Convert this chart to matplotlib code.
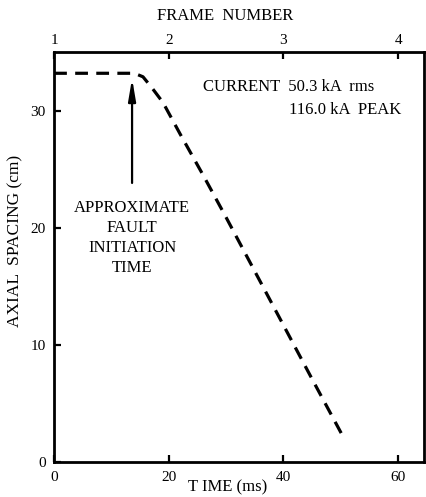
import numpy as np
import matplotlib
matplotlib.use("Agg")
import matplotlib.pyplot as plt

time_ms = [0.0, 5.0, 10.0, 14.0, 15.5, 17.0, 19.0, 22.0, 26.0, 30.0,
           35.0, 40.0, 45.0, 50.5]
spacing_cm = [33.2, 33.2, 33.2, 33.2, 32.9, 32.0, 30.7, 28.0, 24.5, 20.9,
              16.3, 11.7, 7.1, 2.1]

frame_ticks = [1, 2, 3, 4]
time_ticks = [0, 20, 40, 60]
spacing_ticks = [0, 10, 20, 30]
arrow_time = 13.6
arrow_from, arrow_to = 23.6, 33.0

plt.rcParams['font.family'] = ['Liberation Serif', 'DejaVu Serif']

fig = plt.figure(figsize=(4.26, 4.97), dpi=100)
ax = fig.add_axes([0.127, 0.070, 0.868, 0.825])

ax.plot(time_ms, spacing_cm, color='black', lw=2.3, ls=(0, (4, 2.6)))

ax.set_xlim(0, 64.5)
ax.set_ylim(0, 35)
ax.set_xticks(time_ticks)
ax.set_yticks(spacing_ticks)
ax.tick_params(direction='in', length=5, width=1.6, labelsize=11, pad=6)
for s in ax.spines.values():
    s.set_linewidth(2.0)

ax.set_xlabel('T IME (ms)', fontsize=12)
ax.xaxis.set_label_coords(0.47, -0.043)
ax.set_ylabel('AXIAL  SPACING (cm)', fontsize=12.5)
ax.yaxis.set_label_coords(-0.082, 0.54)

top = ax.secondary_xaxis('top', functions=(lambda t: t / 20.0 + 1,
                                           lambda f: (f - 1) * 20.0))
top.set_xticks(frame_ticks)
top.tick_params(direction='in', length=5, width=1.6, labelsize=11, pad=4)
fig.text(225 / 426, 1 - 16 / 497, 'FRAME  NUMBER', ha='center',
         va='center', fontsize=12)

ax.annotate('', xy=(arrow_time, arrow_to), xytext=(arrow_time, arrow_from),
            arrowprops=dict(arrowstyle='-|>,head_length=1.3,head_width=0.22',
                            color='black', lw=1.6))
ax.text(arrow_time, 22.4, 'APPROXIMATE\nFAULT\nINITIATION\nTIME',
        ha='center', va='top', fontsize=12, linespacing=1.35)

ax.text(25.9, 32.0, 'CURRENT  50.3 kA  rms', ha='left', va='center',
        fontsize=12)
ax.text(41.0, 30.1, '116.0 kA  PEAK', ha='left', va='center', fontsize=12)

fig.savefig('out.png', dpi=100)
